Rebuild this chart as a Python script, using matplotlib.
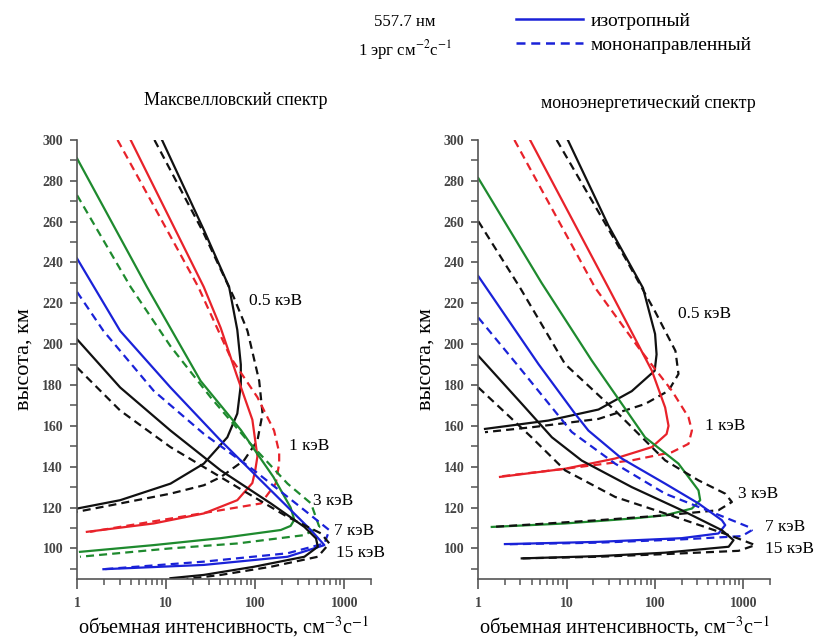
import matplotlib
matplotlib.use("Agg")
import matplotlib.pyplot as plt
from matplotlib.lines import Line2D
from matplotlib.ticker import LogLocator, MultipleLocator, FixedLocator, NullFormatter

plt.rcParams["font.family"] = ["Liberation Serif", "DejaVu Serif"]
plt.rcParams["mathtext.fontset"] = "stix"

BLACK, RED, GREEN, BLUE = "#111111", "#e8222a", "#1e8a2e", "#1a22d8"

# --- Максвелловский спектр (left) ---
L05s_I = [9.0, 26.5, 51, 63, 69, 69, 63, 48.7, 26.5, 11.2, 3.05, 1.0]
L05s_h = [300, 256, 228, 207, 190, 180, 166, 154.4, 141.5, 131.7, 123.6, 119.5]
L05d_I = [7.4, 26, 57.5, 82, 111, 121, 106, 75, 41, 26.5, 11.2, 3.05, 1.0]
L05d_h = [300, 255, 223, 206.5, 182, 166, 152.8, 143.1, 134.9, 130.9, 126.8, 122, 117.9]
L1s_I = [4.0, 26.5, 41, 63, 93, 106, 100, 93, 63, 26.5, 7.25, 1.29]
L1s_h = [300, 228, 208, 184, 163, 145, 138, 132, 123.6, 117.1, 112.2, 108.1]
L1d_I = [2.85, 23, 53, 106, 163, 186, 186, 170, 116, 41, 11.2, 1.4]
L1d_h = [300, 228, 193.5, 174, 157.7, 147, 141.5, 131.7, 122, 118.7, 114.6, 108.1]
L3s_I = [1.0, 6.1, 24.4, 69, 160, 250, 275, 250, 194, 41, 7.25, 1.08]
L3s_h = [291, 228, 182, 158, 135, 120, 114, 111, 109, 105, 101.6, 98.3]
L3d_I = [1.0, 4.0, 11.2, 31.6, 82, 231, 424, 525, 357, 63, 11.2, 1.08]
L3d_h = [273, 228, 199, 174, 152.8, 131.7, 122, 110.5, 106.5, 102.4, 100, 95.9]
L7s_I = [1.0, 3.05, 11.2, 41, 97, 231, 424, 598, 231, 26.5, 1.98]
L7s_h = [242, 206.5, 178.8, 152.8, 136.6, 120.3, 108.9, 101.6, 95.9, 91.9, 89.8]
L7d_I = [1.0, 1.98, 7.25, 26.5, 97, 357, 681, 598, 231, 26.5, 1.98]
L7d_h = [225.6, 206.5, 177.2, 156.1, 138.2, 118.7, 108.9, 102.4, 97.6, 93.5, 89.8]
L15s_I = [1.0, 3.05, 11.2, 41, 150, 357, 482, 505, 357, 97, 26.5, 11.2]
L15s_h = [202.4, 178.8, 157.7, 138.2, 122, 110.5, 104.9, 100.8, 95.9, 91, 87, 85.4]
L15d_I = [1.0, 3.05, 11.2, 63, 231, 550, 681, 505, 150, 41, 17]
L15d_h = [188.6, 167.5, 149.6, 130, 115.4, 107.3, 102.4, 95.9, 91, 87, 85]

# --- моноэнергетический спектр (right) ---
R05s_I = [10.3, 29.7, 73, 100, 104, 99, 54.5, 22.9, 6.2, 1.19]
R05s_h = [300, 258, 227.5, 205, 195, 187, 177, 168, 162.6, 158.5]
R05d_I = [7.7, 45.8, 100, 170, 184, 142, 77, 22.9, 4.0, 1.19]
R05d_h = [300, 242.3, 216, 196.7, 185.4, 177.2, 170.7, 163.4, 159.3, 156.9]
R1s_I = [3.85, 29.7, 92, 130, 142, 135, 92, 35.3, 9.6, 1.76]
R1s_h = [300, 227.6, 187, 169, 160, 156, 149.6, 144, 139, 135]
R1d_I = [2.56, 21, 65, 155, 239, 261, 239, 155, 54.5, 9.6, 1.76]
R1d_h = [300, 227.6, 198.3, 177.2, 164.2, 157.7, 151.2, 147.1, 143.1, 139, 135.2]
R3s_I = [1.0, 5.2, 19.2, 77, 184, 310, 324, 261, 130, 54.5, 9.6, 1.42]
R3s_h = [281.3, 230, 192, 154.4, 141.5, 128.4, 123.6, 119.5, 116.2, 114.6, 112.2, 110.5]
R3d_I = [1.0, 2.97, 9.6, 35.3, 71, 130, 310, 622, 740, 522, 130, 22.9, 4.0, 1.42]
R3d_h = [260.2, 227.6, 190.2, 167.5, 154.4, 143.1, 133.3, 126.8, 122.7, 118.7, 116.2, 113.8, 111.7, 110.5]
R7s_I = [1.0, 4.8, 12.4, 17.6, 42, 130, 310, 570, 622, 522, 200, 22.9, 4.0, 2.0]
R7s_h = [233.3, 190.2, 166, 157.7, 144, 131.7, 122, 113.8, 111.4, 107.3, 105, 103.2, 102.4, 102.1]
R7d_I = [1.0, 2.72, 9.6, 11.4, 35.3, 130, 478, 1142, 1245, 957, 200, 22.9, 2.1]
R7d_h = [213, 190.2, 161, 157, 141.5, 126.8, 117.1, 110.5, 108.9, 106, 104.4, 102.8, 102]
R15s_I = [1.0, 3.12, 6.8, 14.8, 54.5, 200, 570, 772, 680, 130, 22.9, 3.1]
R15s_h = [194.3, 170.7, 154.4, 143, 130, 118.7, 108.9, 104, 100.8, 97.9, 96.2, 95.1]
R15d_I = [1.0, 4.0, 9.6, 35.3, 130, 740, 1360, 880, 130, 22.9, 3.1]
R15d_h = [178.8, 154.4, 138.2, 125.2, 117.1, 106, 101.6, 98.8, 97.2, 95.9, 95.1]

energy_labels = ["0.5 кэВ", "1 кэВ", "3 кэВ", "7 кэВ", "15 кэВ"]
left_label_I = [85, 240, 447, 770, 810]
left_label_h = [221, 150, 123, 108.3, 97.6]
right_label_I = [182, 369, 875, 1770, 1770]
right_label_h = [214.8, 160, 126.8, 110.5, 99.5]

left_curves = [
    (L05s_I, L05s_h, BLACK, "-"), (L05d_I, L05d_h, BLACK, "--"),
    (L1s_I, L1s_h, RED, "-"), (L1d_I, L1d_h, RED, "--"),
    (L3s_I, L3s_h, GREEN, "-"), (L3d_I, L3d_h, GREEN, "--"),
    (L7s_I, L7s_h, BLUE, "-"), (L7d_I, L7d_h, BLUE, "--"),
    (L15s_I, L15s_h, BLACK, "-"), (L15d_I, L15d_h, BLACK, "--"),
]
right_curves = [
    (R05s_I, R05s_h, BLACK, "-"), (R05d_I, R05d_h, BLACK, "--"),
    (R1s_I, R1s_h, RED, "-"), (R1d_I, R1d_h, RED, "--"),
    (R3s_I, R3s_h, GREEN, "-"), (R3d_I, R3d_h, BLACK, "--"),
    (R7s_I, R7s_h, BLUE, "-"), (R7d_I, R7d_h, BLUE, "--"),
    (R15s_I, R15s_h, BLACK, "-"), (R15d_I, R15d_h, BLACK, "--"),
]

fig = plt.figure(figsize=(8.22, 6.40), dpi=100)
ax_l = fig.add_axes([0.0937, 0.0953, 0.3577, 0.686])
ax_r = fig.add_axes([0.5819, 0.0953, 0.3549, 0.686])


def style_axis(ax):
    ax.set_xscale("log")
    ax.set_xlim(1, 2000)
    ax.set_ylim(85, 300)
    for s in ("top", "right"):
        ax.spines[s].set_visible(False)
    for s in ("left", "bottom"):
        ax.spines[s].set_color("#555555")
        ax.spines[s].set_linewidth(1.2)
    ax.xaxis.set_major_locator(FixedLocator([1, 10, 100, 1000]))
    ax.xaxis.set_minor_locator(LogLocator(base=10, subs=range(2, 10), numticks=20))
    ax.xaxis.set_minor_formatter(NullFormatter())
    ax.set_xticklabels(["1", "10", "100", "1000"])
    ax.yaxis.set_minor_locator(MultipleLocator(10))
    ax.set_yticks(range(100, 301, 20))
    ax.tick_params(which="major", direction="out", length=5, width=1.2, color="#555555",
                   labelsize=10, labelcolor="#444444")
    ax.tick_params(which="minor", direction="out", length=5, width=1.1, color="#555555")
    ax.tick_params(axis="x", which="major", length=7, pad=6)
    ax.tick_params(axis="x", which="minor", length=4.5)
    ax.tick_params(axis="y", which="major", pad=5)
    for t in ax.get_xticklabels() + ax.get_yticklabels():
        t.set_fontweight("bold")
    ax.set_ylabel("высота, км", fontsize=16, labelpad=6)
    ax.set_xlabel("объемная интенсивность, см$^{-3}$с$^{-1}$", fontsize=14.6, labelpad=3)


for ax, curves, lab_I, lab_h in [
    (ax_l, left_curves, left_label_I, left_label_h),
    (ax_r, right_curves, right_label_I, right_label_h),
]:
    for I, h, c, ls in curves:
        kw = dict(dashes=(3.6, 2.3)) if ls == "--" else {}
        ax.plot(I, h, color=c, lw=1.6, **kw)
    style_axis(ax)
    for txt, xi, yi in zip(energy_labels, lab_I, lab_h):
        ax.text(xi, yi, txt, fontsize=12.5, ha="left", va="center", clip_on=False)

fig.text(0.287, 0.843, "Максвелловский спектр", fontsize=13, ha="center", va="center")
fig.text(0.789, 0.839, "моноэнергетический спектр", fontsize=13, ha="center", va="center")
fig.text(0.493, 0.966, "557.7 нм", fontsize=12, ha="center", va="center")
fig.text(0.493, 0.922, "1 эрг см$^{-2}$с$^{-1}$", fontsize=12, ha="center", va="center")

handles = [Line2D([], [], color=BLUE, lw=1.8),
           Line2D([], [], color=BLUE, lw=1.8, dashes=(3.6, 2.3))]
fig.legend(handles, ["изотропный", "мононаправленный"], loc="upper left",
           bbox_to_anchor=(0.607, 1.008), frameon=False, fontsize=14,
           handlelength=3.4, handletextpad=0.4, labelspacing=0.33)

fig.savefig("out.png", dpi=100, facecolor="white")
